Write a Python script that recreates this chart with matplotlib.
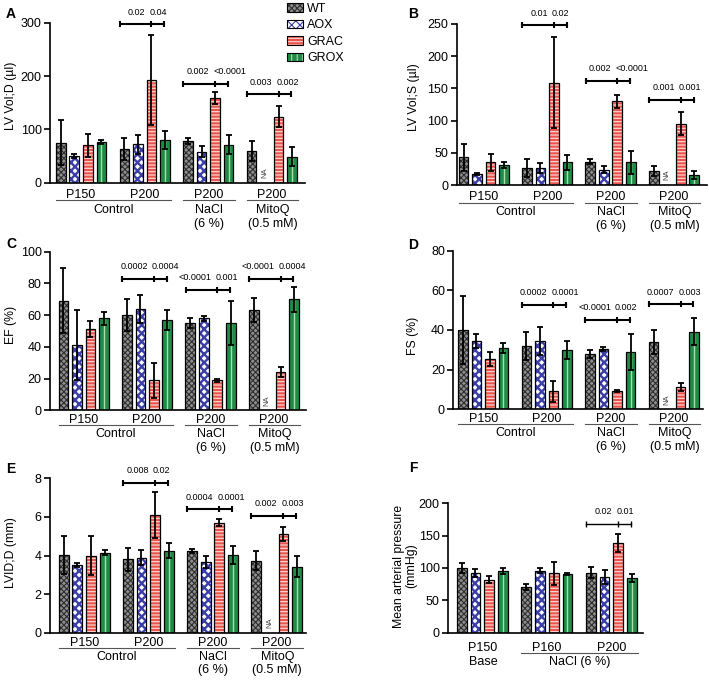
import numpy as np
import matplotlib
matplotlib.use('Agg')
import matplotlib.pyplot as plt
import matplotlib.transforms as mtransforms
from matplotlib.patches import Patch

plt.rcParams['font.family'] = ['Liberation Sans', 'DejaVu Sans']
plt.rcParams['hatch.linewidth'] = 0.8

W_PX, H_PX = 709, 681
genotypes = ['WT', 'AOX', 'GRAC', 'GROX']
face = ['#8f8f8f', '#ffffff', '#e8544e', '#1f8c46']
hatch_col = ['#2e2e2e', '#3b3fa8', '#fbd3cf', '#1f8c46']
hatches = ['xxxxxx', 'xxxx', '-----', '']
hatch_lw = [0.8, 1.7, 0.9, 0.8]
NA = np.nan

# ---- data (mean, sem) rows = groups, cols = WT, AOX, GRAC, GROX ----
a_mean = [[75, 50, 70, 76], [63, 72, 193, 80], [78, 58, 159, 71], [60, NA, 124, 49]]
a_err = [[42, 4, 21, 4], [21, 18, 84, 17], [5, 10, 11, 18], [19, NA, 20, 18]]
b_mean = [[43, 17, 35, 31], [27, 26, 159, 35], [36, 24, 130, 35], [22, NA, 95, 15]]
b_err = [[21, 2, 13, 4], [14, 8, 71, 11], [4, 5, 10, 18], [8, NA, 18, 6]]
c_mean = [[69, 41, 51, 58], [60, 64, 19, 57], [55, 58, 19, 55], [63, NA, 24, 70]]
c_err = [[20.5, 22, 5, 4], [10, 9, 11, 6.5], [3, 1.5, 1, 14], [7.5, NA, 3, 8]]
d_mean = [[40, 34.5, 25.4, 30.8], [32, 34.5, 9, 30], [28, 30.2, 9.2, 29], [33.8, NA, 11.3, 39.2]]
d_err = [[17, 3.5, 3.5, 2.5], [7, 7, 5.5, 4.5], [2, 1, 0.7, 9], [6, NA, 2, 6.7]]
e_mean = [[4.02, 3.5, 4.0, 4.15], [3.8, 3.89, 6.1, 4.25], [4.25, 3.66, 5.7, 4.02], [3.73, NA, 5.11, 3.42]]
e_err = [[1.0, 0.1, 1.0, 0.12], [0.6, 0.4, 1.2, 0.4], [0.1, 0.3, 0.17, 0.45], [0.5, NA, 0.37, 0.55]]
f_mean = [[100, 92, 82, 95], [71, 96, 92, 91], [93, 86, 138, 85]]
f_err = [[8, 6, 5, 5], [5, 4, 18, 2], [8, 11, 14, 6]]

groups4 = ['P150', 'P200', 'P200', 'P200']
cats4 = [(0, 1, ['Control'], True), (2, 2, ['NaCl', '(6 %)'], True), (3, 3, ['MitoQ', '(0.5 mM)'], True)]
groupsF = ['P150', 'P160', 'P200']
catsF = [(0, 0, ['Base'], False), (1, 2, ['NaCl (6 %)'], True)]

a_br = [(1, 297, '0.02', '0.04'), (2, 185, '0.002', '<0.0001'), (3, 166, '0.003', '0.002')]
b_br = [(1, 248, '0.01', '0.02'), (2, 162, '0.002', '<0.0001'), (3, 132, '0.001', '0.001')]
c_br = [(1, 82.8, '0.0002', '0.0004'), (2, 75.8, '<0.0001', '0.001'), (3, 82.8, '<0.0001', '0.0004')]
d_br = [(1, 52.6, '0.0002', '0.0001'), (2, 45, '<0.0001', '0.002'), (3, 53, '0.0007', '0.003')]
e_br = [(1, 7.77, '0.008', '0.02'), (2, 6.4, '0.0004', '0.0001'), (3, 6.06, '0.002', '0.003')]
f_br = [(2, 168, '0.02', '0.01')]

G = 4.7
BW = 0.72

fig = plt.figure(figsize=(W_PX / 100, H_PX / 100), dpi=100)


def add_ax(left, right, top, bottom):
    return fig.add_axes([left / W_PX, 1 - bottom / H_PX, (right - left) / W_PX, (bottom - top) / H_PX])


def panel(ax, means, errs, ymax, ystep, brackets, groups, cats, offs, xlim, blw=1.5):
    means = np.array(means, dtype=float)
    errs = np.array(errs, dtype=float)
    ng = means.shape[0]
    xs = np.arange(ng)[:, None] * G + np.arange(4)[None, :]
    h_px = ax.get_position().height * H_PX
    for i in range(4):
        x, m, e = xs[:, i], means[:, i], errs[:, i]
        ok = ~np.isnan(m)
        with plt.rc_context({'hatch.linewidth': hatch_lw[i]}):
            bars = ax.bar(x[ok], m[ok], BW, color=face[i], edgecolor=hatch_col[i],
                          hatch=hatches[i], linewidth=0)
        for b in bars:
            if hasattr(b, 'set_hatch_linewidth'):
                b.set_hatch_linewidth(hatch_lw[i])
        if i == 3:
            ax.vlines(x[ok], 0, m[ok], color='#a9dcb1', lw=1)
        ax.bar(x[ok], m[ok], BW, facecolor='none', edgecolor='black', linewidth=0.9)
        ax.errorbar(x[ok], m[ok], yerr=e[ok], fmt='none', ecolor='black',
                    elinewidth=1.3, capsize=2.4, capthick=1.3)
        for xx in x[~ok]:
            ax.text(xx, ymax * 0.03, 'NA', rotation=90, ha='center', va='bottom',
                    fontsize=5.5, color='#444444')
    dy = ymax * 3.0 / h_px
    for g, y, l1, l2 in brackets:
        xl, xm, xr = xs[g, 0] - 0.35, xs[g, 2], xs[g, 3] - 0.05
        ax.plot([xl, xr], [y, y], color='black', lw=blw, clip_on=False)
        ax.vlines([xl, xm, xr], y - dy, y + dy, color='black', lw=blw, clip_on=False)
        ax.annotate(l1, (xm - 0.45, y), xytext=(0, 5.5), textcoords='offset points',
                    ha='right', va='bottom', fontsize=6.5)
        ax.annotate(l2, (xm - 0.15, y), xytext=(0, 5.5), textcoords='offset points',
                    ha='left', va='bottom', fontsize=6.5)

    def tr(off):
        return mtransforms.offset_copy(ax.get_xaxis_transform(), fig=fig, y=-off, units='dots')

    o_lab, o_line, o_cat, o_cat2 = offs
    for g, name in enumerate(groups):
        ax.text(xs[g].mean(), 0, name, transform=tr(o_lab), ha='center', va='center', fontsize=9)
    for g0, g1, lines, has_line in cats:
        x0, x1 = xs[g0, 0] - 0.36, xs[g1, 3] + 0.45
        if has_line:
            ax.plot([x0, x1], [0, 0], transform=tr(o_line), color='#555555', lw=0.8, clip_on=False)
        for k, t in enumerate(lines):
            ax.text((x0 + x1) / 2, 0, t, transform=tr(o_cat if k == 0 else o_cat2),
                    ha='center', va='center', fontsize=9)

    ax.set_xlim(*xlim)
    ax.set_ylim(0, ymax)
    ax.set_yticks(np.arange(0, ymax + ystep / 2, ystep))
    ax.set_xticks([])
    for s in ['top', 'right']:
        ax.spines[s].set_visible(False)
    for s in ['left', 'bottom']:
        ax.spines[s].set_linewidth(1.2)
    ax.tick_params(axis='y', length=4.5, width=1.2, labelsize=9, pad=1.5)


offsAB = (12.5, 17.5, 27, 41)
offsCDE = (10, 15, 24, 37.5)

axA = add_ax(50, 305, 22.7, 182.7)
panel(axA, a_mean, a_err, 300, 100, a_br, groups4, cats4, offsAB, (-0.80, 18.05))
axB = add_ax(456.7, 707, 24, 185)
panel(axB, b_mean, b_err, 250, 50, b_br, groups4, cats4, offsAB, (-0.51, 18.05))
axC = add_ax(50, 306, 251.7, 410.3)
panel(axC, c_mean, c_err, 100, 20, c_br, groups4, cats4, offsCDE, (-1.0, 17.98))
axD = add_ax(453.3, 703, 250.7, 409.3)
panel(axD, d_mean, d_err, 80, 20, d_br, groups4, cats4, offsCDE, (-0.71, 17.76))
axE = add_ax(50, 306, 478.3, 632.7)
panel(axE, e_mean, e_err, 8, 2, e_br, groups4, cats4, offsCDE, (-1.0, 17.75))
axF = add_ax(448, 643, 503.3, 632.7)
panel(axF, f_mean, f_err, 200, 50, f_br, groupsF, catsF, (15.7, 20, 29.7, 43), (-1.0, 13.2), blw=1.0)

# y labels and panel letters (figure pixel positions)
ylabels = [('LV Vol;D (\u00b5l)', 11, 96, 1.1), ('LV Vol;S (\u00b5l)', 414, 97, 1.1),
           ('EF (%)', 11, 325, 1.1), ('FS (%)', 413, 336, 1.1), ('LVID;D (mm)', 11, 553, 1.1),
           ('Mean arterial pressure\n(mmHg)', 405, 566, 1.0)]
for t, x, y, ls in ylabels:
    fig.text(x / W_PX, 1 - y / H_PX, t, rotation=90, ha='center', va='center', fontsize=8.8,
             linespacing=ls)
letters = [('A', 11, 14), ('B', 413, 14), ('C', 11, 244), ('D', 413, 245), ('E', 11, 469), ('F', 413, 468)]
for t, x, y in letters:
    fig.text(x / W_PX, 1 - y / H_PX, t, ha='center', va='center', fontsize=10, fontweight='bold')

handles = []
for i in range(4):
    hp = Patch(facecolor=face[i], edgecolor=hatch_col[i], hatch=hatches[i], linewidth=0)
    if i == 3:
        hp = Patch(facecolor=face[3], edgecolor='#a9dcb1', hatch='|||', linewidth=0)
    if hasattr(hp, 'set_hatch_linewidth'):
        hp.set_hatch_linewidth(hatch_lw[i])
    handles.append((hp, Patch(facecolor='none', edgecolor='black', linewidth=0.8)))
fig.legend(handles, genotypes, loc='upper left', bbox_to_anchor=(282 / W_PX, 1 + 2 / H_PX),
           frameon=False, fontsize=9, handlelength=1.3, handleheight=0.65, handletextpad=0.3,
           labelspacing=0.35, borderaxespad=0)

fig.savefig('out.png', dpi=100)
